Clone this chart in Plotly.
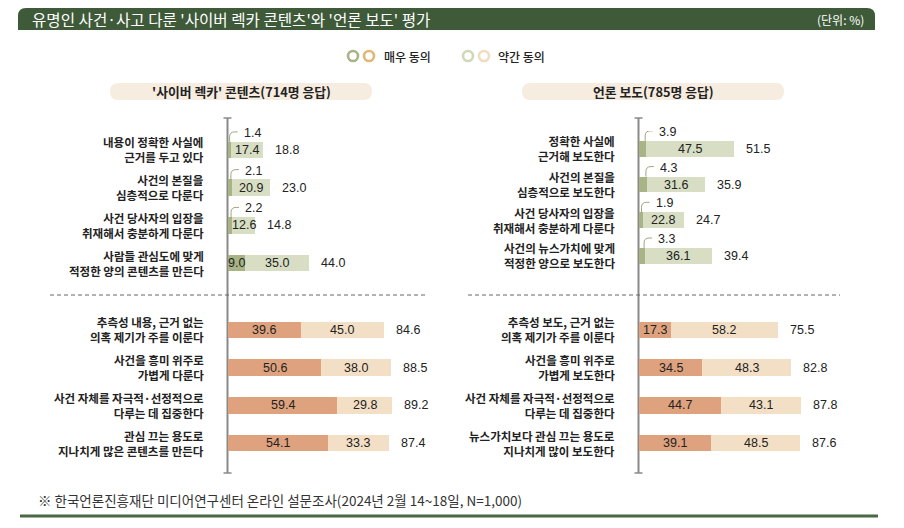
import plotly.graph_objects as go

W, H = 904, 528

# ---- data (읽은 값, 단위: %) ----
cyber_top_labels = ["내용이 정확한 사실에\n근거를 두고 있다",
                    "사건의 본질을\n심층적으로 다룬다",
                    "사건 당사자의 입장을\n취재해서 충분하게 다룬다",
                    "사람들 관심도에 맞게\n적정한 양의 콘텐츠를 만든다"]
cyber_top_strong = [1.4, 2.1, 2.2, 9.0]
cyber_top_some = [17.4, 20.9, 12.6, 35.0]
cyber_top_total = [18.8, 23.0, 14.8, 44.0]

cyber_bot_labels = ["추측성 내용, 근거 없는\n의혹 제기가 주를 이룬다",
                    "사건을 흥미 위주로\n가볍게 다룬다",
                    "사건 자체를 자극적·선정적으로\n다루는 데 집중한다",
                    "관심 끄는 용도로\n지나치게 많은 콘텐츠를 만든다"]
cyber_bot_strong = [39.6, 50.6, 59.4, 54.1]
cyber_bot_some = [45.0, 38.0, 29.8, 33.3]
cyber_bot_total = [84.6, 88.5, 89.2, 87.4]

press_top_labels = ["정확한 사실에\n근거해 보도한다",
                    "사건의 본질을\n심층적으로 보도한다",
                    "사건 당사자의 입장을\n취재해서 충분하게 다룬다",
                    "사건의 뉴스가치에 맞게\n적정한 양으로 보도한다"]
press_top_strong = [3.9, 4.3, 1.9, 3.3]
press_top_some = [47.5, 31.6, 22.8, 36.1]
press_top_total = [51.5, 35.9, 24.7, 39.4]

press_bot_labels = ["추측성 보도, 근거 없는\n의혹 제기가 주를 이룬다",
                    "사건을 흥미 위주로\n가볍게 보도한다",
                    "사건 자체를 자극적·선정적으로\n다루는 데 집중한다",
                    "뉴스가치보다 관심 끄는 용도로\n지나치게 많이 보도한다"]
press_bot_strong = [17.3, 34.5, 44.7, 39.1]
press_bot_some = [58.2, 48.3, 43.1, 48.5]
press_bot_total = [75.5, 82.8, 87.8, 87.6]

series_names = ["매우 동의", "약간 동의"]
title_text = "유명인 사건·사고 다룬 '사이버 렉카 콘텐츠'와 '언론 보도' 평가"
unit_text = "(단위: %)"
panel_titles = ["'사이버 렉카' 콘텐츠(714명 응답)", "언론 보도(785명 응답)"]
source_text = "※ 한국언론진흥재단 미디어연구센터 온라인 설문조사(2024년 2월 14~18일, N=1,000)"

# ---- style ----
KR = "Noto Sans CJK KR"
NUM = "Liberation Sans, Noto Sans CJK KR"
TXT = "#222222"
DARK_GREEN = "#a8b386"
LIGHT_GREEN = "#d8dec4"
DARK_ORANGE = "#dfa27e"
LIGHT_ORANGE = "#f3dfc5"
BAR_GREEN = "#3e5a39"


def px(x):
    return x / W


def py(y):
    return 1 - y / H


fig = go.Figure()
annotations = []
shapes = []

panels = [
    (cyber_top_labels, cyber_top_strong, cyber_top_some, cyber_top_total, "x", "y", DARK_GREEN, LIGHT_GREEN),
    (cyber_bot_labels, cyber_bot_strong, cyber_bot_some, cyber_bot_total, "x", "y2", DARK_ORANGE, LIGHT_ORANGE),
    (press_top_labels, press_top_strong, press_top_some, press_top_total, "x2", "y3", DARK_GREEN, LIGHT_GREEN),
    (press_bot_labels, press_bot_strong, press_bot_some, press_bot_total, "x2", "y4", DARK_ORANGE, LIGHT_ORANGE),
]

for labels, strong, some, total, xa, ya, c1, c2 in panels:
    cats = [l.replace("\n", " ") for l in labels]
    fig.add_trace(go.Bar(y=cats, x=strong, orientation="h", xaxis=xa, yaxis=ya,
                         marker=dict(color=c1, line=dict(width=0)), width=0.44,
                         name=series_names[0], showlegend=False, hoverinfo="skip"))
    fig.add_trace(go.Bar(y=cats, x=some, orientation="h", xaxis=xa, yaxis=ya,
                         marker=dict(color=c2, line=dict(width=0)), width=0.44,
                         name=series_names[1], showlegend=False, hoverinfo="skip"))
    for i, cat in enumerate(cats):
        annotations.append(dict(xref=xa, yref=ya, x=0, y=cat, text=labels[i].replace("\n", "<br>"),
                                showarrow=False, align="right",
                                xanchor="right", yanchor="middle", xshift=-22,
                                font=dict(family=KR, size=11.5, color=TXT, weight=600)))
        vfont = dict(family=NUM, size=12.5, color=TXT)
        if strong[i] >= 5:
            annotations.append(dict(xref=xa, yref=ya, x=strong[i] / 2, y=cat,
                                    text=f"{strong[i]:.1f}", showarrow=False, font=vfont))
        else:
            annotations.append(dict(xref=xa, yref=ya, x=strong[i], y=cat,
                                    text=f"{strong[i]:.1f}", showarrow=False, xanchor="left",
                                    xshift=11, yshift=17, font=vfont))
            shapes.append(dict(type="path", xref=xa, yref=ya, xsizemode="pixel", ysizemode="pixel",
                               xanchor=strong[i], yanchor=cat,
                               path="M -1,8 L -1,13 Q -1,18 4,18 L 7,18",
                               line=dict(color="#9ca67e", width=1)))
        annotations.append(dict(xref=xa, yref=ya, x=strong[i] + some[i] / 2, y=cat,
                                text=f"{some[i]:.1f}", showarrow=False, font=vfont))
        annotations.append(dict(xref=xa, yref=ya, x=strong[i] + some[i], y=cat,
                                text=f"{total[i]:.1f}", showarrow=False, xanchor="left",
                                xshift=10, font=vfont))

# ---- title bar ----
x0, x1, y0, y1, r = 18, 875, 8, 30, 8
shapes.append(dict(type="path", xref="paper", yref="paper",
                   path=(f"M {px(x0)},{py(y1)} L {px(x0)},{py(y0 + r)} "
                         f"Q {px(x0)},{py(y0)} {px(x0 + r)},{py(y0)} "
                         f"L {px(x1 - r)},{py(y0)} Q {px(x1)},{py(y0)} {px(x1)},{py(y0 + r)} "
                         f"L {px(x1)},{py(y1)} Z"),
                   fillcolor=BAR_GREEN, line=dict(width=0)))
annotations.append(dict(xref="paper", yref="paper", x=px(30), y=py(19), text=title_text,
                        showarrow=False, xanchor="left", yanchor="middle",
                        font=dict(family=KR, size=15.6, color="white")))
annotations.append(dict(xref="paper", yref="paper", x=px(866), y=py(19), text=unit_text,
                        showarrow=False, xanchor="right", yanchor="middle",
                        font=dict(family=KR, size=12, color="white")))

# ---- legend ----
legend_items = [(353, 369, DARK_GREEN, "#e2b677", 382), (468, 484, "#cfd8b9", "#f0dcc1", 496)]
for k, (cx1, cx2, ca, cb, tx) in enumerate(legend_items):
    for cx, col in ((cx1, ca), (cx2, cb)):
        shapes.append(dict(type="circle", xref="paper", yref="paper",
                           x0=px(cx - 5), x1=px(cx + 5), y0=py(56 + 5), y1=py(56 - 5),
                           line=dict(color=col, width=2.6), fillcolor="rgba(0,0,0,0)"))
    annotations.append(dict(xref="paper", yref="paper", x=px(tx), y=py(56), text=series_names[k],
                            showarrow=False, xanchor="left", yanchor="middle",
                            font=dict(family=KR, size=12, color=TXT, weight=500)))

# ---- panel pills ----
for (pl, pr), txt in zip([(110, 372), (522, 784)], panel_titles):
    t, b = 83, 100
    rr = (b - t) / 2
    shapes.append(dict(type="path", xref="paper", yref="paper",
                       path=(f"M {px(pl + rr)},{py(t)} L {px(pr - rr)},{py(t)} "
                             f"Q {px(pr)},{py(t)} {px(pr)},{py(t + rr)} "
                             f"Q {px(pr)},{py(b)} {px(pr - rr)},{py(b)} "
                             f"L {px(pl + rr)},{py(b)} "
                             f"Q {px(pl)},{py(b)} {px(pl)},{py(t + rr)} "
                             f"Q {px(pl)},{py(t)} {px(pl + rr)},{py(t)} Z"),
                       fillcolor="#f6ecdf", line=dict(width=0)))
    annotations.append(dict(xref="paper", yref="paper", x=px((pl + pr) / 2), y=py((t + b) / 2),
                            text=txt, showarrow=False, xanchor="center", yanchor="middle",
                            font=dict(family=KR, size=12.8, color=TXT, weight=700)))

# ---- axis lines, caps, separators ----
for ax_x in (227.5, 638.5):
    shapes.append(dict(type="line", xref="paper", yref="paper", x0=px(ax_x), x1=px(ax_x),
                       y0=py(118), y1=py(473), line=dict(color="#8a8a8a", width=2), layer="below"))
    for yy in (118, 473):
        shapes.append(dict(type="line", xref="paper", yref="paper", x0=px(ax_x - 4), x1=px(ax_x + 4),
                           y0=py(yy), y1=py(yy), line=dict(color="#8a8a8a", width=1.5)))
for sx0, sx1 in ((50, 428), (468, 840)):
    shapes.append(dict(type="line", xref="paper", yref="paper", x0=px(sx0), x1=px(sx1),
                       y0=py(295), y1=py(295), line=dict(color="#666666", width=1, dash="4px,3px")))

# ---- footer ----
annotations.append(dict(xref="paper", yref="paper", x=px(36), y=py(500), text=source_text,
                        showarrow=False, xanchor="left", yanchor="middle",
                        font=dict(family=KR, size=13.5, color="#333333")))
shapes.append(dict(type="line", xref="paper", yref="paper", x0=px(20), x1=px(878),
                   y0=py(516), y1=py(516), line=dict(color="#4a6844", width=3)))

# ---- axes ----
scale = 1.84  # px per %
xl0, xr0 = 228, 639
ax_common = dict(visible=False, range=[0, 100], fixedrange=True)
y_common = dict(visible=False, autorange="reversed", type="category", fixedrange=True)
top_dom = [py(282), py(131)]
bot_dom = [py(462), py(311)]

fig.update_layout(
    width=W, height=H,
    margin=dict(l=0, r=0, t=0, b=0),
    paper_bgcolor="white", plot_bgcolor="white",
    barmode="stack",
    showlegend=False,
    font=dict(family=KR, color=TXT),
    xaxis=dict(domain=[px(xl0), px(xl0 + 100 * scale)], anchor="y", **ax_common),
    xaxis2=dict(domain=[px(xr0), px(xr0 + 100 * scale)], anchor="y3", **ax_common),
    yaxis=dict(domain=top_dom, anchor="x", **y_common),
    yaxis2=dict(domain=bot_dom, anchor="x", **y_common),
    yaxis3=dict(domain=top_dom, anchor="x2", **y_common),
    yaxis4=dict(domain=bot_dom, anchor="x2", **y_common),
    annotations=annotations,
    shapes=shapes,
)

fig.write_html("out.html", config={"displayModeBar": False},
               post_script="document.body.style.margin='0';")
